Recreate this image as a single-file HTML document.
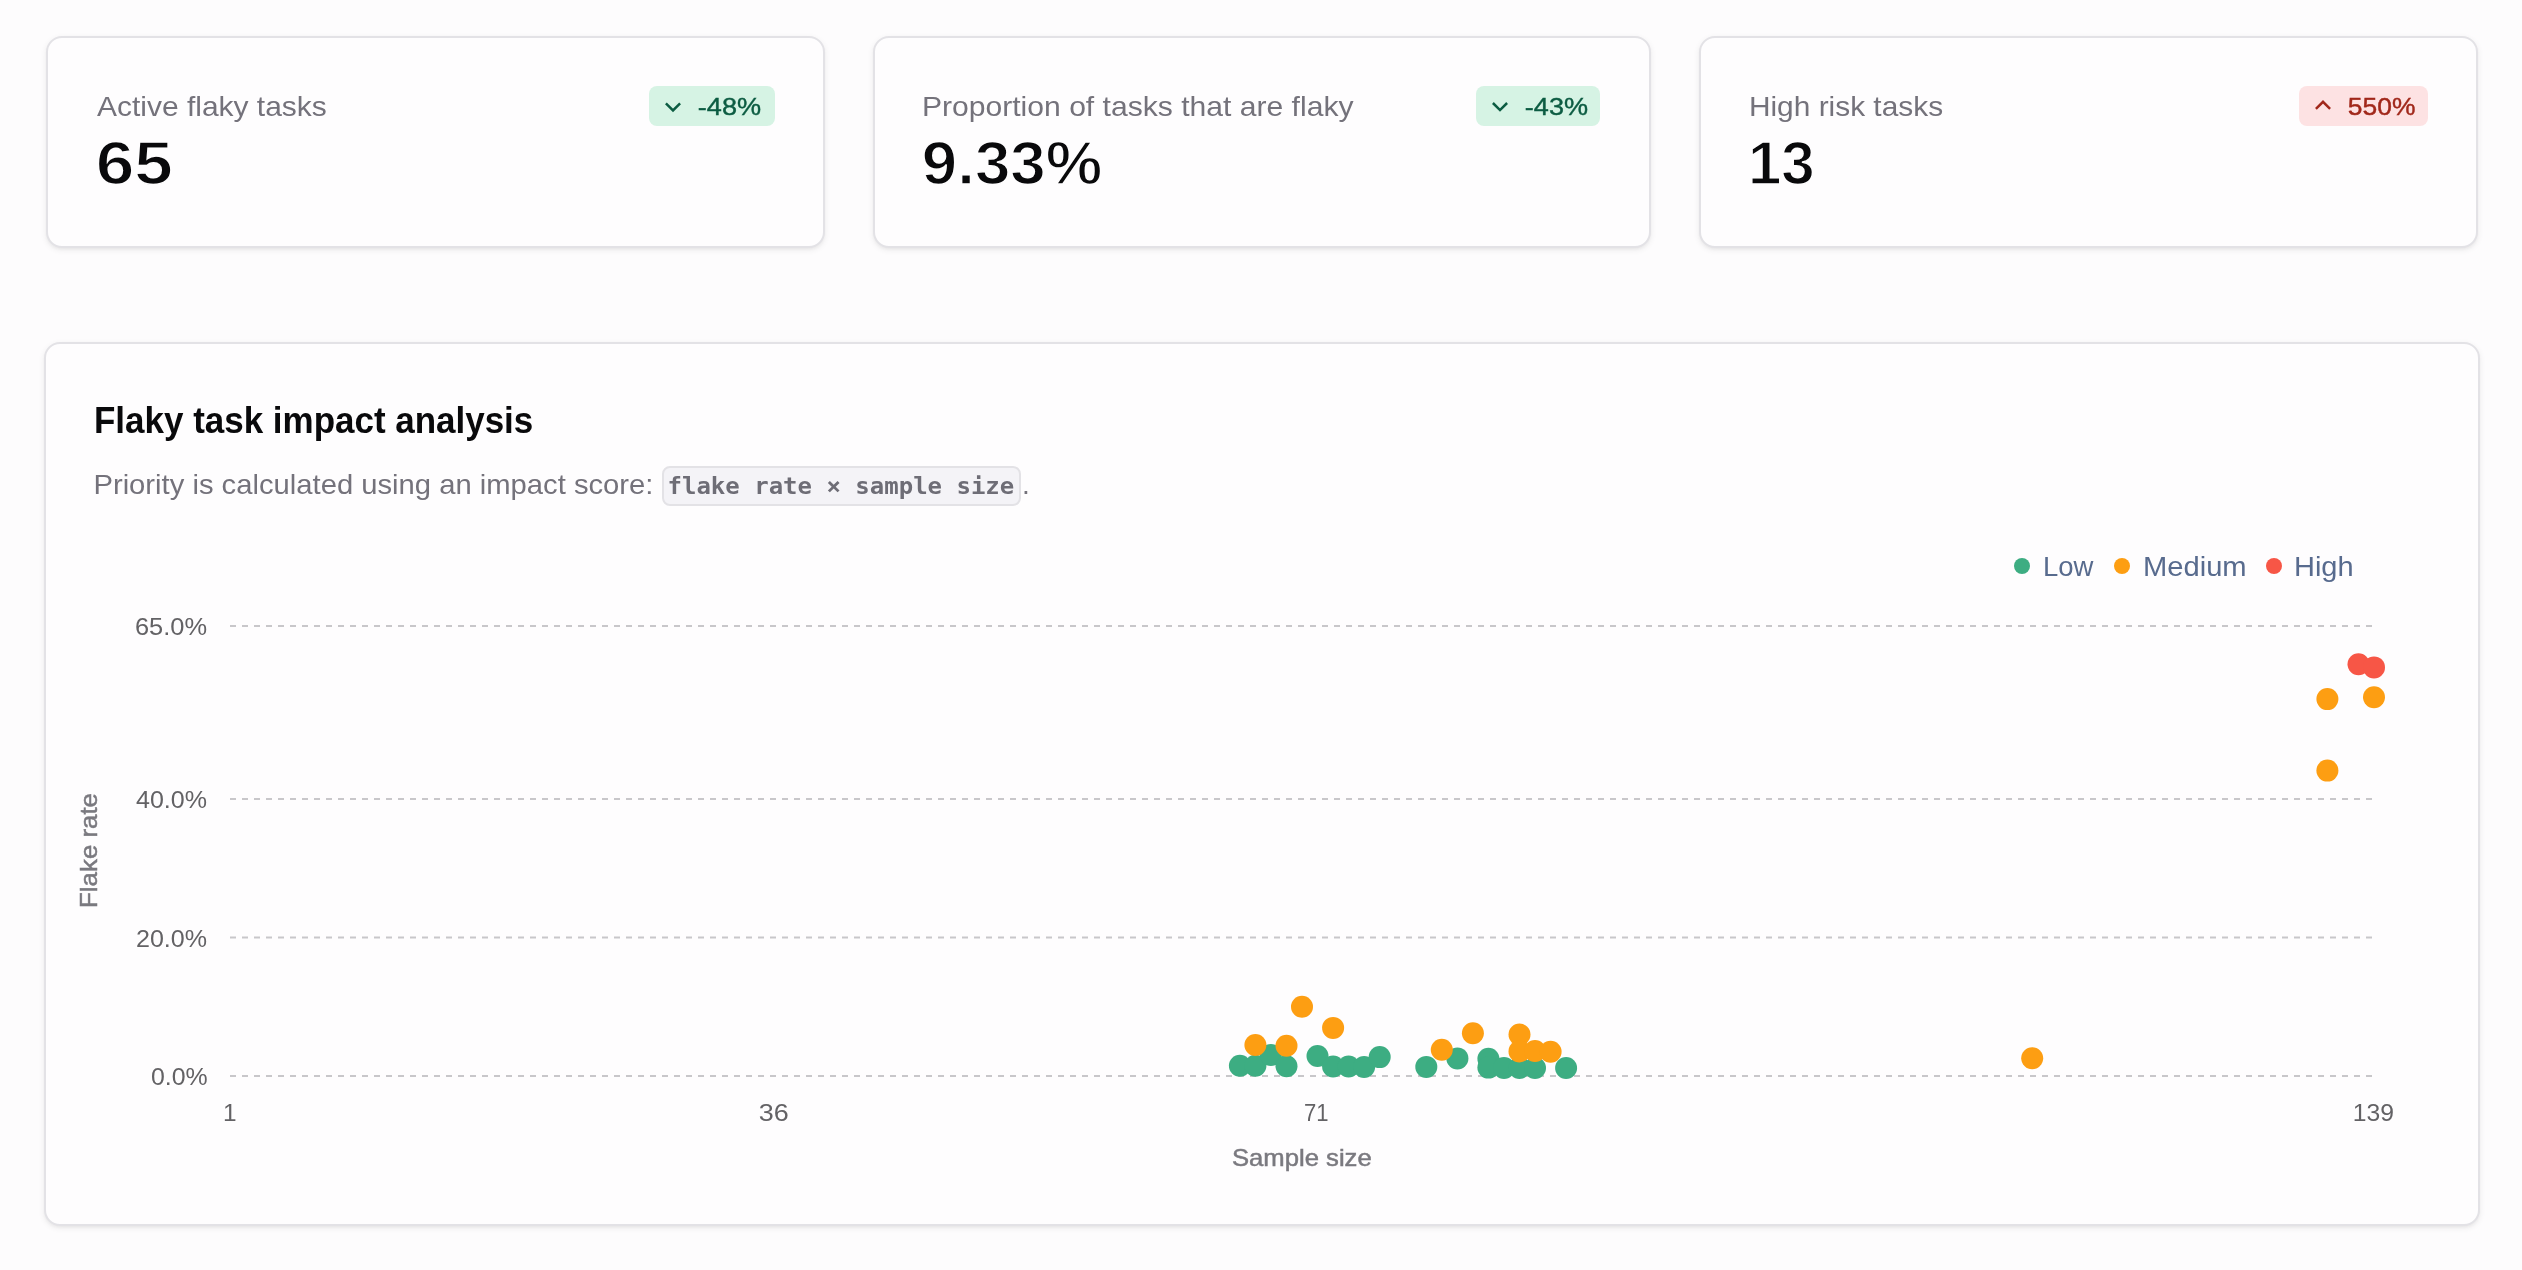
<!DOCTYPE html>
<html lang="en">
<head>
<meta charset="utf-8">
<title>Flaky tasks</title>
<style>
  html, body { margin:0; padding:0; }
  body { width:2522px; height:1270px; overflow:hidden; background:#fdfcfd; position:relative;
         font-family:"Liberation Sans", Arial, sans-serif; }
  .card { position:absolute; box-sizing:border-box; background:#fefdfe; border:2px solid #e3e2e6;
          border-radius:16px; box-shadow:0 2px 6px 0 rgba(0,0,0,.07), 0 2px 4px -2px rgba(0,0,0,.07); }
  svg.ov { position:absolute; left:0; top:0; will-change:transform; }
  text { font-family:"Liberation Sans", Arial, sans-serif; }
  .lbl { font-size:28px; fill:#74727b; }
  .met { font-size:61.5px; font-weight:700; fill:#09090b; stroke:#fefdfe; stroke-width:1.5px; }
  .ttl { font-size:36px; font-weight:700; fill:#09090b; }
  .bdg { font-size:24px; stroke-width:0.4px; }
  .code { font-family:"DejaVu Sans Mono", "Liberation Mono", monospace; font-weight:700; font-size:22.8px; fill:#6e6d76; }
  .tick { font-size:24px; fill:#636265; }
  .axl { font-size:24px; fill:#7a797f; stroke:#7a797f; stroke-width:0.5px; }
  .leg { font-size:28px; fill:#586b8e; }
  @media (max-width: 1300px) { html { zoom: 0.5; } }
</style>
</head>
<body>
<div class="card" style="left:46px;top:36px;width:779px;height:212px"></div>
<div class="card" style="left:873px;top:36px;width:778px;height:212px"></div>
<div class="card" style="left:1699px;top:36px;width:779px;height:212px"></div>
<div class="card" style="left:44px;top:342px;width:2436px;height:884px"></div>

<svg class="ov" width="2522" height="1270" viewBox="0 0 2522 1270">
  <rect class="nt" x="649" y="86" width="126" height="40" rx="8" fill="#d6f3e4"/>
  <path class="nt" d="M665.9 103.3 L673 110.4 L680.1 103.3" fill="none" stroke="#0c5c42" stroke-width="2.5"/>
  <rect class="nt" x="1476" y="86" width="124" height="40" rx="8" fill="#d6f3e4"/>
  <path class="nt" d="M1492.9 103 L1500 110.1 L1507.1 103" fill="none" stroke="#0c5c42" stroke-width="2.5"/>
  <rect class="nt" x="2299" y="86" width="129" height="40" rx="8" fill="#fde2e3"/>
  <path class="nt" d="M2315.9 108.9 L2323 101.8 L2330.1 108.9" fill="none" stroke="#a1281b" stroke-width="2.5"/>
  <rect class="nt" x="663" y="467" width="357" height="38" rx="7" fill="#f4f3f7" stroke="#e3e2e6" stroke-width="2"/>

  <circle class="nt" cx="2022" cy="566" r="8" fill="#3dad82"/>
  <circle class="nt" cx="2122" cy="566" r="8" fill="#fd9e12"/>
  <circle class="nt" cx="2274" cy="566" r="8" fill="#f75646"/>

  <g class="nt" stroke="#c8c7ca" stroke-width="2" stroke-dasharray="6 6">
    <line x1="230" y1="626" x2="2374" y2="626"/>
    <line x1="230" y1="799.1" x2="2374" y2="799.1"/>
    <line x1="230" y1="937.5" x2="2374" y2="937.5"/>
    <line x1="230" y1="1076" x2="2374" y2="1076"/>
  </g>

  <text id="lbl1" class="lbl" x="97.00" y="116" textLength="229.78" lengthAdjust="spacingAndGlyphs">Active flaky tasks</text>
  <text id="met1" class="met" x="95.66" y="184" textLength="77.38" lengthAdjust="spacingAndGlyphs">65</text>
  <text id="bt1" class="bdg" x="697.82" y="115" textLength="63.24" lengthAdjust="spacingAndGlyphs" style="fill:#0c5c42;stroke:#0c5c42">-48%</text>
  <text id="lbl2" class="lbl" x="921.93" y="116" textLength="431.57" lengthAdjust="spacingAndGlyphs">Proportion of tasks that are flaky</text>
  <text id="met2" class="met" x="921.88" y="184" textLength="180.33" lengthAdjust="spacingAndGlyphs">9.33%</text>
  <text id="bt2" class="bdg" x="1524.84" y="115" textLength="63.22" lengthAdjust="spacingAndGlyphs" style="fill:#0c5c42;stroke:#0c5c42">-43%</text>
  <text id="lbl3" class="lbl" x="1748.93" y="116" textLength="194.14" lengthAdjust="spacingAndGlyphs">High risk tasks</text>
  <text id="met3" class="met" x="1747.95" y="184" textLength="66.82" lengthAdjust="spacingAndGlyphs">13</text>
  <text id="bt3" class="bdg" x="2347.89" y="115" textLength="67.55" lengthAdjust="spacingAndGlyphs" style="fill:#a1281b;stroke:#a1281b">550%</text>
  <text id="title" class="ttl" x="94.03" y="432.8" textLength="439.23" lengthAdjust="spacingAndGlyphs">Flaky task impact analysis</text>
  <text id="sub" class="lbl" x="93.43" y="494" textLength="560.04" lengthAdjust="spacingAndGlyphs">Priority is calculated using an impact score:</text>
  <text id="code" class="code" x="667.50" y="493.8" textLength="346.78" lengthAdjust="spacingAndGlyphs">flake rate × sample size</text>
  <text id="dot" class="lbl" x="1022.00" y="494">.</text>
  <text id="lg1" class="leg" x="2042.98" y="576" textLength="50.43" lengthAdjust="spacingAndGlyphs">Low</text>
  <text id="lg2" class="leg" x="2142.96" y="576" textLength="103.71" lengthAdjust="spacingAndGlyphs">Medium</text>
  <text id="lg3" class="leg" x="2293.94" y="576" textLength="59.70" lengthAdjust="spacingAndGlyphs">High</text>
  <text id="yt1" class="tick" x="134.94" y="635" textLength="72.15" lengthAdjust="spacingAndGlyphs">65.0%</text>
  <text id="yt2" class="tick" x="136.00" y="808" textLength="71.07" lengthAdjust="spacingAndGlyphs">40.0%</text>
  <text id="yt3" class="tick" x="135.94" y="946.5" textLength="71.13" lengthAdjust="spacingAndGlyphs">20.0%</text>
  <text id="yt4" class="tick" x="150.99" y="1085" textLength="56.75" lengthAdjust="spacingAndGlyphs">0.0%</text>
  <text id="xt1" class="tick" x="222.94" y="1120.5" textLength="13.58" lengthAdjust="spacingAndGlyphs">1</text>
  <text id="xt2" class="tick" x="758.86" y="1120.5" textLength="29.99" lengthAdjust="spacingAndGlyphs">36</text>
  <text id="xt3" class="tick" x="1304.08" y="1120.5" textLength="24.57" lengthAdjust="spacingAndGlyphs">71</text>
  <text id="xt4" class="tick" x="2352.89" y="1120.5" textLength="41.19" lengthAdjust="spacingAndGlyphs">139</text>
  <text id="xl" class="axl" x="1231.94" y="1166" textLength="139.78" lengthAdjust="spacingAndGlyphs">Sample size</text>
  <text id="yl" class="axl" transform="translate(96.6 850.50) rotate(-90)" x="0" y="0" text-anchor="middle" textLength="114.93" lengthAdjust="spacingAndGlyphs">Flake rate</text>

  <g class="nt">
  <g fill="#3dad82">
<circle cx="1239.9" cy="1065.8" r="11"/>
<circle cx="1255.4" cy="1065.8" r="11"/>
<circle cx="1270.9" cy="1054.9" r="11"/>
<circle cx="1286.5" cy="1066.2" r="11"/>
<circle cx="1317.5" cy="1056.0" r="11"/>
<circle cx="1333.1" cy="1066.5" r="11"/>
<circle cx="1348.6" cy="1066.5" r="11"/>
<circle cx="1364.1" cy="1066.9" r="11"/>
<circle cx="1379.7" cy="1057.1" r="11"/>
<circle cx="1426.3" cy="1066.9" r="11"/>
<circle cx="1457.4" cy="1058.4" r="11"/>
<circle cx="1488.4" cy="1058.7" r="11"/>
<circle cx="1488.4" cy="1067.6" r="11"/>
<circle cx="1504.0" cy="1068.0" r="11"/>
<circle cx="1519.5" cy="1068.0" r="11"/>
<circle cx="1535.0" cy="1068.0" r="11"/>
<circle cx="1566.1" cy="1068.0" r="11"/>
</g>
<g fill="#fd9e12">
<circle cx="1302.0" cy="1006.8" r="11"/>
<circle cx="1333.1" cy="1027.9" r="11"/>
<circle cx="1255.4" cy="1045.0" r="11"/>
<circle cx="1286.5" cy="1045.8" r="11"/>
<circle cx="1441.8" cy="1049.7" r="11"/>
<circle cx="1472.9" cy="1033.2" r="11"/>
<circle cx="1519.5" cy="1034.6" r="11"/>
<circle cx="1519.5" cy="1051.4" r="11"/>
<circle cx="1535.0" cy="1051.0" r="11"/>
<circle cx="1550.6" cy="1051.8" r="11"/>
<circle cx="2032.2" cy="1058.2" r="11"/>
<circle cx="2327.4" cy="699.1" r="11"/>
<circle cx="2374.0" cy="697.3" r="11"/>
<circle cx="2327.4" cy="770.6" r="11"/>
</g>
<g fill="#f75646">
<circle cx="2358.5" cy="664.3" r="11"/>
<circle cx="2374.0" cy="667.4" r="11"/>
</g>
  </g>
</svg>
</body>
</html>
